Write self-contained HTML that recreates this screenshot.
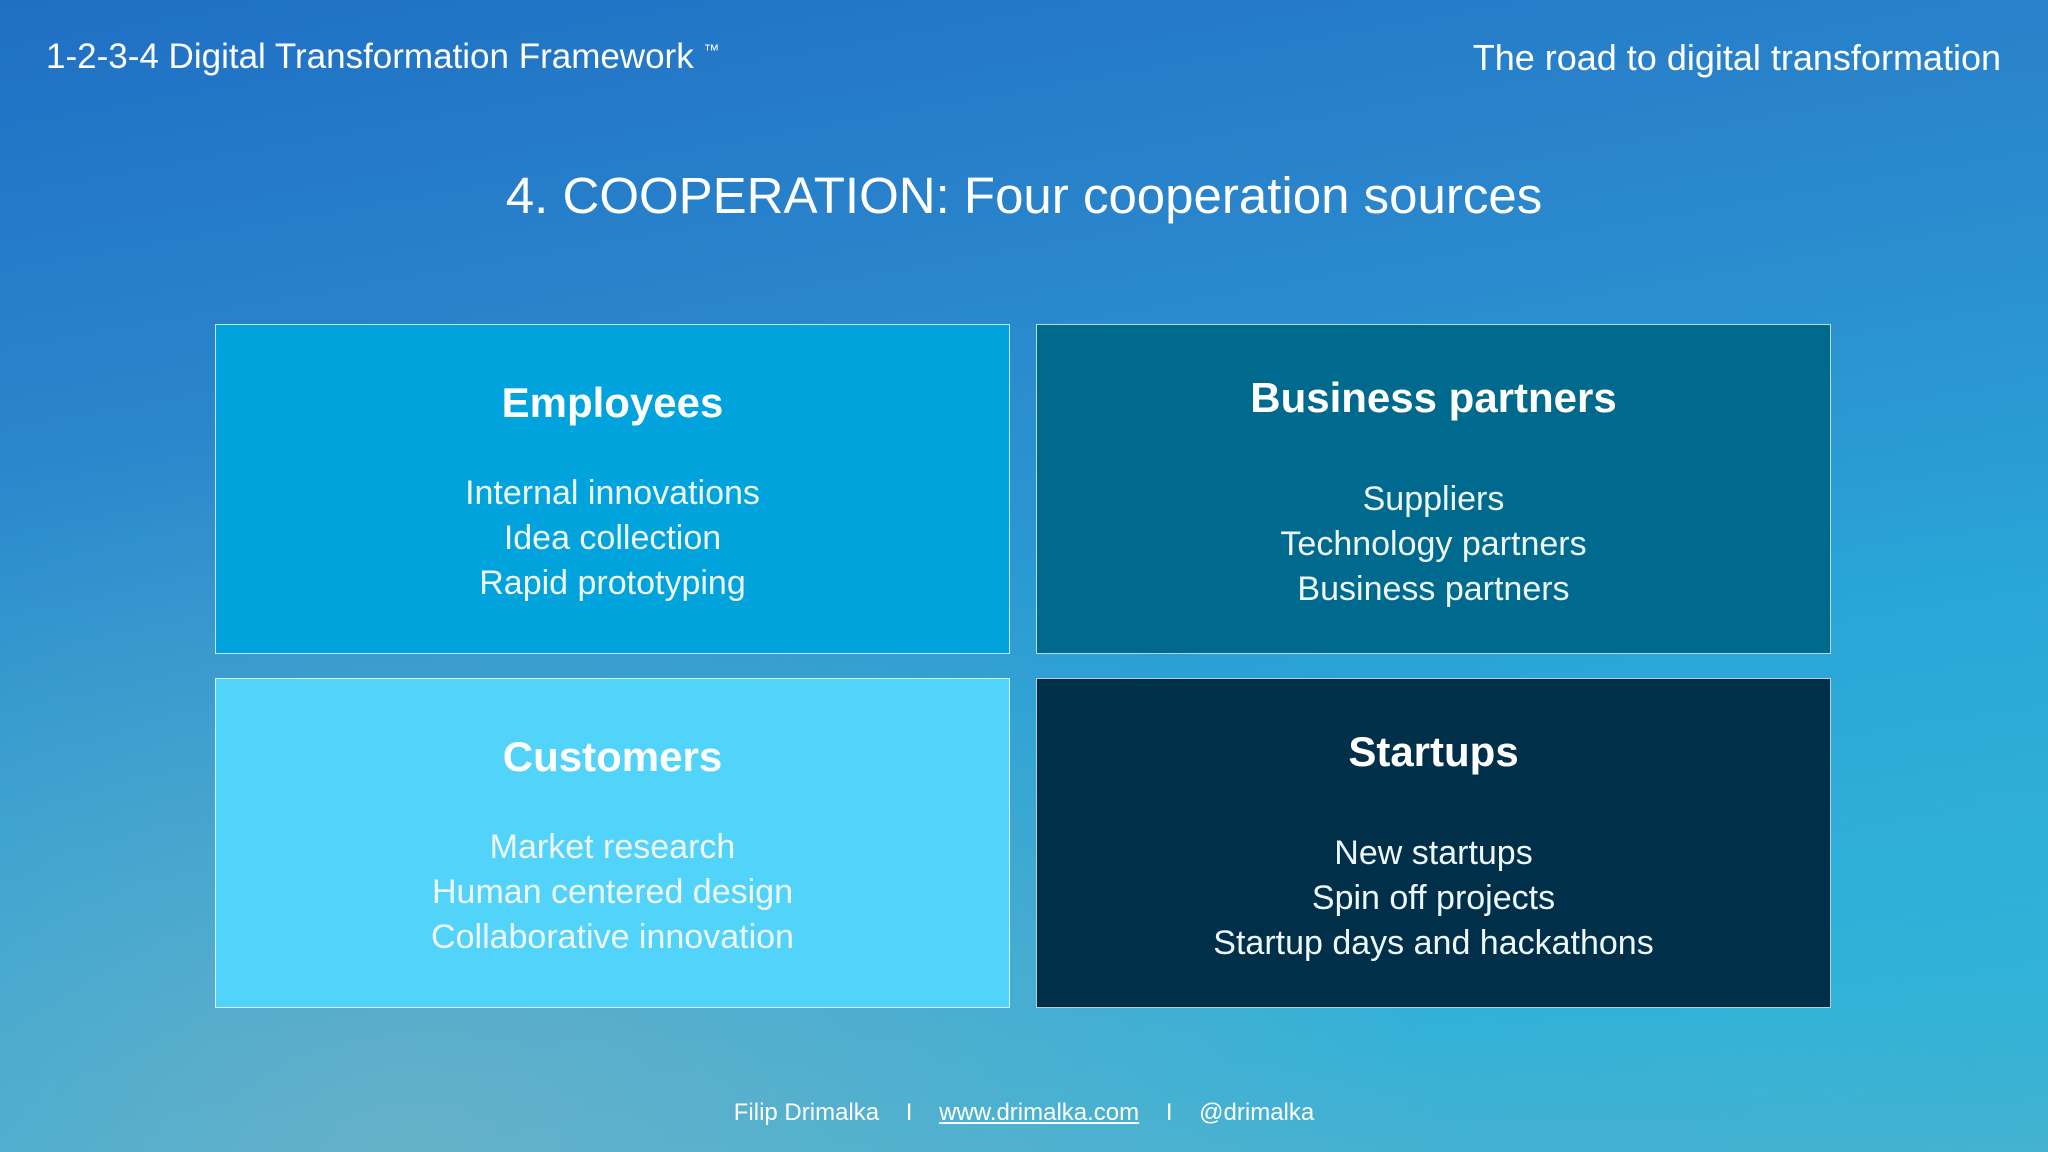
<!DOCTYPE html>
<html><head><meta charset="utf-8"><style>
html,body{margin:0;padding:0}
body{width:2048px;height:1152px;overflow:hidden;position:relative;font-family:"Liberation Sans",sans-serif;color:#fff;
background:linear-gradient(170deg,#1f6fc4 0%,#2a86cc 30%,#2aa2d6 60%,#3ab0d6 85%,#5fb0c8 100%);}
.bg2{position:absolute;inset:0;background:radial-gradient(ellipse at 20% 100%,rgba(140,180,190,0.55),rgba(0,0,0,0) 45%),radial-gradient(ellipse at 100% 90%,rgba(30,180,220,0.5),rgba(0,0,0,0) 40%)}
.t{position:absolute;white-space:nowrap}
.box{position:absolute;width:795px;height:330px;box-sizing:border-box;border:1.5px solid rgba(255,255,255,0.75);text-align:center}
.box h2{position:absolute;left:0;right:0;margin:0;font-size:42px;font-weight:bold;line-height:1}
.box .it{position:absolute;left:0;right:0;font-size:34px;font-weight:300;line-height:45px;color:#eef8fc}
</style></head><body>
<div class="bg2"></div>
<div class="t" style="left:46px;top:37px;font-size:35px">1-2-3-4 Digital Transformation Framework <sup style="font-size:16px">™</sup></div>
<div class="t" style="right:47px;top:37px;font-size:36px">The road to digital transformation</div>
<div class="t" style="left:0;right:0;text-align:center;top:166px;font-size:51px">4. COOPERATION: Four cooperation sources</div>

<div class="box" style="left:215px;top:324px;background:#00a3dc"><h2 style="top:57px">Employees</h2><div class="it" style="top:146px">Internal innovations<br>Idea collection<br>Rapid prototyping</div></div>
<div class="box" style="left:1036px;top:324px;background:#006a8e"><h2 style="top:52px">Business partners</h2><div class="it" style="top:152px">Suppliers<br>Technology partners<br>Business partners</div></div>
<div class="box" style="left:215px;top:678px;background:#52d3fa"><h2 style="top:57px">Customers</h2><div class="it" style="top:146px">Market research<br>Human centered design<br>Collaborative innovation</div></div>
<div class="box" style="left:1036px;top:678px;background:#003049"><h2 style="top:52px">Startups</h2><div class="it" style="top:152px">New startups<br>Spin off projects<br>Startup days and hackathons</div></div>

<div class="t" style="left:0;right:0;text-align:center;top:1099px;font-size:24px">Filip Drimalka &nbsp;&nbsp;&nbsp;I&nbsp;&nbsp;&nbsp; <u>www.drimalka.com</u> &nbsp;&nbsp;&nbsp;I&nbsp;&nbsp;&nbsp; @drimalka</div>
</body></html>
